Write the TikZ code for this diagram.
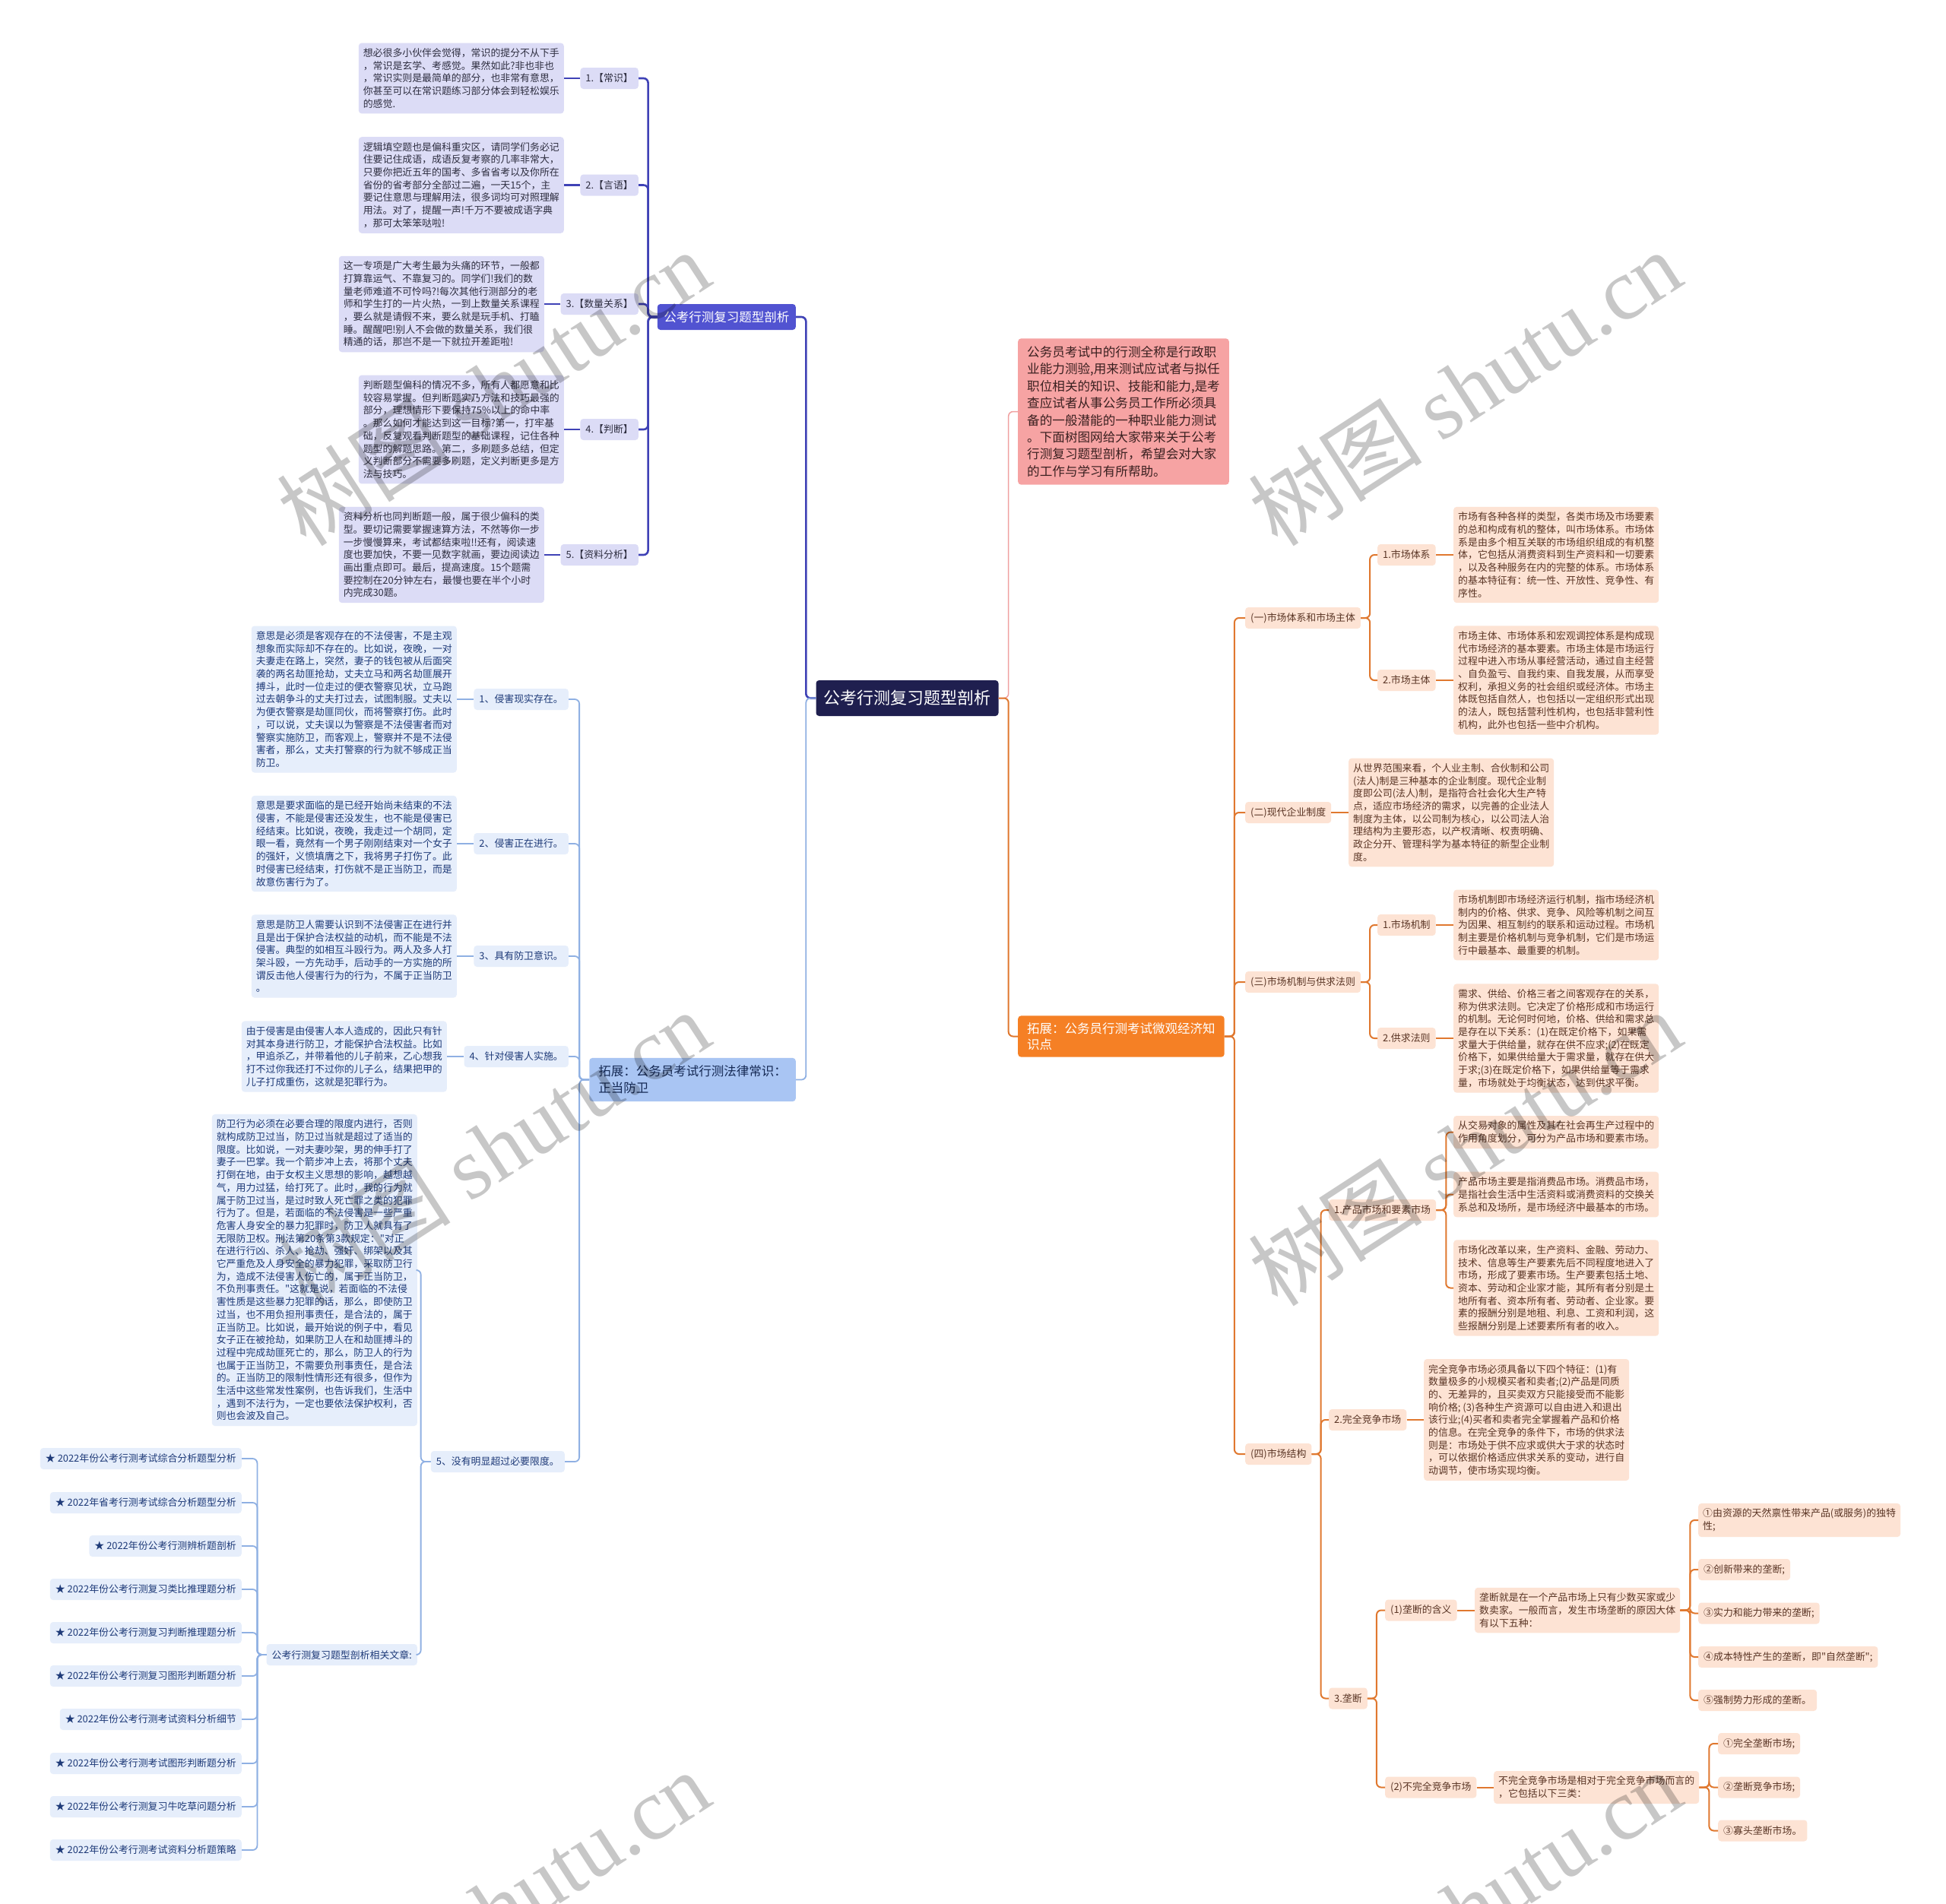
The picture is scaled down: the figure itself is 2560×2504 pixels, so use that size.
\documentclass[tikz,border=0pt]{standalone}
\usepackage{fontspec}
\newfontfamily\cjk{Noto Sans CJK SC}
\newfontfamily\wmfont{Liberation Serif}
\definecolor{rootfill}{HTML}{1F1F4F}
\definecolor{pnodefill}{HTML}{5153D1}
\definecolor{plinec}{HTML}{3F42B6}
\definecolor{pfill}{HTML}{DCDCF6}
\definecolor{ptext}{HTML}{2E2E40}
\definecolor{bnodefill}{HTML}{A9C5F3}
\definecolor{blinec}{HTML}{8FB0E3}
\definecolor{bfill}{HTML}{E6EEFB}
\definecolor{btext}{HTML}{1E3A78}
\definecolor{pinkfill}{HTML}{F6A3A3}
\definecolor{pinkline}{HTML}{F0A0A0}
\definecolor{pinktext}{HTML}{3A2020}
\definecolor{onodefill}{HTML}{F58025}
\definecolor{olinec}{HTML}{E0782F}
\definecolor{ofill}{HTML}{FDE3D4}
\definecolor{otext}{HTML}{5A3525}
\newcommand\myfsmall{\cjk\fontsize{12.9}{16.7}\selectfont}
\tikzset{
  boxbase/.style={rounded corners=4pt, inner xsep=6pt, inner ysep=7pt, align=left},
  labbase/.style={rounded corners=4pt, inner xsep=7pt, inner ysep=2pt, minimum height=28pt, align=left},
  rootbox/.style={rounded corners=4pt, fill=rootfill, text=white, font=\cjk\fontsize{22}{26}\selectfont, inner xsep=10pt, minimum height=47pt},
  pnode/.style={rounded corners=4pt, fill=pnodefill, text=white, font=\cjk\fontsize{16.5}{20}\selectfont, inner xsep=8.5pt, minimum height=34pt},
  ptxt/.style={boxbase, fill=pfill, text=ptext, font=\myfsmall},
  plab/.style={labbase, fill=pfill, text=ptext, font=\myfsmall},
  bnode/.style={rounded corners=4pt, fill=bnodefill, text=btext!70!black, font=\cjk\fontsize{16.5}{22}\selectfont, inner xsep=12pt, inner ysep=10pt, align=left},
  btxt/.style={boxbase, fill=bfill, text=btext, font=\myfsmall},
  blab/.style={labbase, fill=bfill, text=btext, font=\myfsmall},
  pinkbox/.style={rounded corners=4pt, fill=pinkfill, text=pinktext, font=\cjk\fontsize{16.6}{22.4}\selectfont, inner xsep=12pt, inner ysep=10pt, align=left},
  onode/.style={rounded corners=4pt, fill=onodefill, text=white, font=\cjk\fontsize{16.5}{21}\selectfont, inner xsep=12pt, inner ysep=9pt, align=left},
  otxt/.style={boxbase, fill=ofill, text=otext, font=\myfsmall},
  olab/.style={labbase, fill=ofill, text=otext, font=\myfsmall},
  pline/.style={draw=plinec, line width=2.6pt, rounded corners=6pt},
  bline/.style={draw=blinec, line width=1.8pt, rounded corners=6pt},
  oline/.style={draw=olinec, line width=2pt, rounded corners=6pt},
  pkline/.style={draw=pinkline, line width=1.5pt, rounded corners=6pt},
  wmark/.style={text=black, opacity=0.22, rotate=33, font=\cjk\fontsize{115}{120}\selectfont, inner sep=0pt}
}
\begin{document}
\begin{tikzpicture}[x=1pt,y=-1pt]
\useasboundingbox (0,0) rectangle (2560,2504);
\fill[white] (0,0) rectangle (2560,2504);

% ---------- root ----------
\node[rootbox] (root) at (1193.5,918.5) {公考行测复习题型剖析};

% ---------- purple branch ----------
\node[pnode, anchor=east] (pb) at (1047,417) {公考行测复习题型剖析};
\node[plab, anchor=east] (p1l) at (840,103) {1.【常识】};
\node[ptxt, anchor=east] (p1t) at (742,103) {想必很多小伙伴会觉得，常识的提分不从下手\\，常识是玄学、考感觉。果然如此?非也非也\\，常识实则是最简单的部分，也非常有意思，\\你甚至可以在常识题练习部分体会到轻松娱乐\\的感觉.};
\node[plab, anchor=east] (p2l) at (840,243.5) {2.【言语】};
\node[ptxt, anchor=east] (p2t) at (742,243.5) {逻辑填空题也是偏科重灾区，请同学们务必记\\住要记住成语，成语反复考察的几率非常大，\\只要你把近五年的国考、多省省考以及你所在\\省份的省考部分全部过二遍，一天15个，主\\要记住意思与理解用法，很多词均可对照理解\\用法。对了，提醒一声!千万不要被成语字典\\，那可太笨笨哒啦!};
\node[plab, anchor=east] (p3l) at (840,400) {3.【数量关系】};
\node[ptxt, anchor=east] (p3t) at (716,400) {这一专项是广大考生最为头痛的环节，一般都\\打算靠运气、不靠复习的。同学们!我们的数\\量老师难道不可怜吗?!每次其他行测部分的老\\师和学生打的一片火热，一到上数量关系课程\\，要么就是请假不来，要么就是玩手机、打瞌\\睡。醒醒吧!别人不会做的数量关系，我们很\\精通的话，那岂不是一下就拉开差距啦!};
\node[plab, anchor=east] (p4l) at (840,565) {4.【判断】};
\node[ptxt, anchor=east] (p4t) at (742,565) {判断题型偏科的情况不多，所有人都愿意和比\\较容易掌握。但判断题实乃方法和技巧最强的\\部分，理想情形下要保持75\%以上的命中率\\。那么如何才能达到这一目标?第一，打牢基\\础，反复观看判断题型的基础课程，记住各种\\题型的解题思路。第二，多刷题多总结，但定\\义判断部分不需要多刷题，定义判断更多是方\\法与技巧。};
\node[plab, anchor=east] (p5l) at (840,730) {5.【资料分析】};
\node[ptxt, anchor=east] (p5t) at (716,730) {资料分析也同判断题一般，属于很少偏科的类\\型。要切记需要掌握速算方法，不然等你一步\\一步慢慢算来，考试都结束啦!!还有，阅读速\\度也要加快，不要一见数字就画，要边阅读边\\画出重点即可。最后，提高速度。15个题需\\要控制在20分钟左右，最慢也要在半个小时\\内完成30题。};

% ---------- blue branch ----------
\node[bnode, anchor=east] (bb) at (1047,1420.5) {拓展：公务员考试行测法律常识：\\正当防卫};
\node[blab, anchor=east] (b1l) at (748,920) {1、侵害现实存在。};
\node[btxt, anchor=east] (b1t) at (601,920) {意思是必须是客观存在的不法侵害，不是主观\\想象而实际却不存在的。比如说，夜晚，一对\\夫妻走在路上，突然，妻子的钱包被从后面突\\袭的两名劫匪抢劫，丈夫立马和两名劫匪展开\\搏斗，此时一位走过的便衣警察见状，立马跑\\过去朝争斗的丈夫打过去，试图制服。丈夫以\\为便衣警察是劫匪同伙，而将警察打伤。此时\\，可以说，丈夫误以为警察是不法侵害者而对\\警察实施防卫，而客观上，警察并不是不法侵\\害者，那么，丈夫打警察的行为就不够成正当\\防卫。};
\node[blab, anchor=east] (b2l) at (748,1110) {2、侵害正在进行。};
\node[btxt, anchor=east] (b2t) at (601,1110) {意思是要求面临的是已经开始尚未结束的不法\\侵害，不能是侵害还没发生，也不能是侵害已\\经结束。比如说，夜晚，我走过一个胡同，定\\眼一看，竟然有一个男子刚刚结束对一个女子\\的强奸，义愤填膺之下，我将男子打伤了。此\\时侵害已经结束，打伤就不是正当防卫，而是\\故意伤害行为了。};
\node[blab, anchor=east] (b3l) at (748,1258) {3、具有防卫意识。};
\node[btxt, anchor=east] (b3t) at (601,1258) {意思是防卫人需要认识到不法侵害正在进行并\\且是出于保护合法权益的动机，而不能是不法\\侵害。典型的如相互斗殴行为。两人及多人打\\架斗殴，一方先动手，后动手的一方实施的所\\谓反击他人侵害行为的行为，不属于正当防卫\\。};
\node[blab, anchor=east] (b4l) at (748,1390) {4、针对侵害人实施。};
\node[btxt, anchor=east] (b4t) at (588,1390) {由于侵害是由侵害人本人造成的，因此只有针\\对其本身进行防卫，才能保护合法权益。比如\\，甲追杀乙，并带着他的儿子前来，乙心想我\\打不过你我还打不过你的儿子么，结果把甲的\\儿子打成重伤，这就是犯罪行为。};
\node[blab, anchor=east] (b5l) at (743,1923) {5、没有明显超过必要限度。};
\node[btxt, anchor=east] (b5t) at (549,1671) {防卫行为必须在必要合理的限度内进行，否则\\就构成防卫过当，防卫过当就是超过了适当的\\限度。比如说，一对夫妻吵架，男的伸手打了\\妻子一巴掌。我一个箭步冲上去，将那个丈夫\\打倒在地，由于女权主义思想的影响，越想越\\气，用力过猛，给打死了。此时，我的行为就\\属于防卫过当，是过时致人死亡罪之类的犯罪\\行为了。但是，若面临的不法侵害是一些严重\\危害人身安全的暴力犯罪时，防卫人就具有了\\无限防卫权。刑法第20条第3款规定："对正\\在进行行凶、杀人、抢劫、强奸、绑架以及其\\它严重危及人身安全的暴力犯罪，采取防卫行\\为，造成不法侵害人伤亡的，属于正当防卫，\\不负刑事责任。"这就是说，若面临的不法侵\\害性质是这些暴力犯罪的话，那么，即使防卫\\过当，也不用负担刑事责任，是合法的，属于\\正当防卫。比如说，最开始说的例子中，看见\\女子正在被抢劫，如果防卫人在和劫匪搏斗的\\过程中完成劫匪死亡的，那么，防卫人的行为\\也属于正当防卫，不需要负刑事责任，是合法\\的。正当防卫的限制性情形还有很多，但作为\\生活中这些常发性案例，也告诉我们，生活中\\，遇到不法行为，一定也要依法保护权利，否\\则也会波及自己。};
\node[blab, anchor=east] (rel) at (549,2177) {公考行测复习题型剖析相关文章:};
\node[blab, anchor=east] (a1) at (318,1919) {★ 2022年份公考行测考试综合分析题型分析};
\node[blab, anchor=east] (a2) at (318,1977) {★ 2022年省考行测考试综合分析题型分析};
\node[blab, anchor=east] (a3) at (318,2034) {★ 2022年份公考行测辨析题剖析};
\node[blab, anchor=east] (a4) at (318,2091) {★ 2022年份公考行测复习类比推理题分析};
\node[blab, anchor=east] (a5) at (318,2148) {★ 2022年份公考行测复习判断推理题分析};
\node[blab, anchor=east] (a6) at (318,2205) {★ 2022年份公考行测复习图形判断题分析};
\node[blab, anchor=east] (a7) at (318,2262) {★ 2022年份公考行测考试资料分析细节};
\node[blab, anchor=east] (a8) at (318,2320) {★ 2022年份公考行测考试图形判断题分析};
\node[blab, anchor=east] (a9) at (318,2377) {★ 2022年份公考行测复习牛吃草问题分析};
\node[blab, anchor=east] (a10) at (318,2434) {★ 2022年份公考行测考试资料分析题策略};

% ---------- pink intro ----------
\node[pinkbox, anchor=west] (intro) at (1339,541.5) {公务员考试中的行测全称是行政职\\业能力测验,用来测试应试者与拟任\\职位相关的知识、技能和能力,是考\\查应试者从事公务员工作所必须具\\备的一般潜能的一种职业能力测试\\。下面树图网给大家带来关于公考\\行测复习题型剖析，希望会对大家\\的工作与学习有所帮助。};

% ---------- orange branch ----------
\node[onode, anchor=west] (ob) at (1339,1363.5) {拓展：公务员行测考试微观经济知\\识点};
\node[olab, anchor=west] (o1) at (1638,813) {(一)市场体系和市场主体};
\node[olab, anchor=west] (o11) at (1812,730) {1.市场体系};
\node[otxt, anchor=west] (o11t) at (1912,730) {市场有各种各样的类型，各类市场及市场要素\\的总和构成有机的整体，叫市场体系。市场体\\系是由多个相互关联的市场组织组成的有机整\\体，它包括从消费资料到生产资料和一切要素\\，以及各种服务在内的完整的体系。市场体系\\的基本特征有：统一性、开放性、竞争性、有\\序性。};
\node[olab, anchor=west] (o12) at (1812,895) {2.市场主体};
\node[otxt, anchor=west] (o12t) at (1912,895) {市场主体、市场体系和宏观调控体系是构成现\\代市场经济的基本要素。市场主体是市场运行\\过程中进入市场从事经营活动，通过自主经营\\、自负盈亏、自我约束、自我发展，从而享受\\权利，承担义务的社会组织或经济体。市场主\\体既包括自然人，也包括以一定组织形式出现\\的法人，既包括营利性机构，也包括非营利性\\机构，此外也包括一些中介机构。};
\node[olab, anchor=west] (o2) at (1638,1069) {(二)现代企业制度};
\node[otxt, anchor=west] (o2t) at (1774,1069) {从世界范围来看，个人业主制、合伙制和公司\\(法人)制是三种基本的企业制度。现代企业制\\度即公司(法人)制，是指符合社会化大生产特\\点，适应市场经济的需求，以完善的企业法人\\制度为主体，以公司制为核心，以公司法人治\\理结构为主要形态，以产权清晰、权责明确、\\政企分开、管理科学为基本特征的新型企业制\\度。};
\node[olab, anchor=west] (o3) at (1638,1292) {(三)市场机制与供求法则};
\node[olab, anchor=west] (o31) at (1812,1217) {1.市场机制};
\node[otxt, anchor=west] (o31t) at (1912,1217) {市场机制即市场经济运行机制，指市场经济机\\制内的价格、供求、竞争、风险等机制之间互\\为因果、相互制约的联系和运动过程。市场机\\制主要是价格机制与竞争机制，它们是市场运\\行中最基本、最重要的机制。};
\node[olab, anchor=west] (o32) at (1812,1366) {2.供求法则};
\node[otxt, anchor=west] (o32t) at (1912,1366) {需求、供给、价格三者之间客观存在的关系，\\称为供求法则。它决定了价格形成和市场运行\\的机制。无论何时何地，价格、供给和需求总\\是存在以下关系：(1)在既定价格下，如果需\\求量大于供给量，就存在供不应求;(2)在既定\\价格下，如果供给量大于需求量，就存在供大\\于求;(3)在既定价格下，如果供给量等于需求\\量，市场就处于均衡状态，达到供求平衡。};
\node[olab, anchor=west] (o4) at (1638,1913) {(四)市场结构};
\node[olab, anchor=west] (o41) at (1748,1592) {1.产品市场和要素市场};
\node[otxt, anchor=west] (o41a) at (1912,1489.5) {从交易对象的属性及其在社会再生产过程中的\\作用角度划分，可分为产品市场和要素市场。};
\node[otxt, anchor=west] (o41b) at (1912,1571.5) {产品市场主要是指消费品市场。消费品市场，\\是指社会生活中生活资料或消费资料的交换关\\系总和及场所，是市场经济中最基本的市场。};
\node[otxt, anchor=west] (o41c) at (1912,1694.5) {市场化改革以来，生产资料、金融、劳动力、\\技术、信息等生产要素先后不同程度地进入了\\市场，形成了要素市场。生产要素包括土地、\\资本、劳动和企业家才能，其所有者分别是土\\地所有者、资本所有者、劳动者、企业家。要\\素的报酬分别是地租、利息、工资和利润，这\\些报酬分别是上述要素所有者的收入。};
\node[olab, anchor=west] (o42) at (1748,1868) {2.完全竞争市场};
\node[otxt, anchor=west] (o42t) at (1873,1868) {完全竞争市场必须具备以下四个特征：(1)有\\数量极多的小规模买者和卖者;(2)产品是同质\\的、无差异的，且买卖双方只能接受而不能影\\响价格; (3)各种生产资源可以自由进入和退出\\该行业;(4)买者和卖者完全掌握着产品和价格\\的信息。在完全竞争的条件下，市场的供求法\\则是：市场处于供不应求或供大于求的状态时\\，可以依据价格适应供求关系的变动，进行自\\动调节，使市场实现均衡。};
\node[olab, anchor=west] (o43) at (1748,2234.5) {3.垄断};
\node[olab, anchor=west] (o431) at (1822,2118.5) {(1)垄断的含义};
\node[otxt, anchor=west] (o431t) at (1940,2118.5) {垄断就是在一个产品市场上只有少数买家或少\\数卖家。一般而言，发生市场垄断的原因大体\\有以下五种：};
\node[otxt, anchor=west] (m1) at (2234,2000) {①由资源的天然禀性带来产品(或服务)的独特\\性;};
\node[olab, anchor=west] (m2) at (2234,2065) {②创新带来的垄断;};
\node[olab, anchor=west] (m3) at (2234,2122.5) {③实力和能力带来的垄断;};
\node[olab, anchor=west] (m4) at (2234,2180) {④成本特性产生的垄断，即"自然垄断";};
\node[olab, anchor=west] (m5) at (2234,2237) {⑤强制势力形成的垄断。};
\node[olab, anchor=west] (o432) at (1822,2351.5) {(2)不完全竞争市场};
\node[otxt, anchor=west] (o432t) at (1965,2351.5) {不完全竞争市场是相对于完全竞争市场而言的\\，它包括以下三类：};
\node[olab, anchor=west] (n1) at (2260,2294) {①完全垄断市场;};
\node[olab, anchor=west] (n2) at (2260,2351.5) {②垄断竞争市场;};
\node[olab, anchor=west] (n3) at (2260,2408.5) {③寡头垄断市场。};

% ---------- connectors ----------
\draw[pline] (root.west) -- ++(-13,0) |- (pb.east);
\draw[bline] (root.west) -- ++(-13,0) |- (bb.east);
\draw[pkline] (root.east) -- ++(13,0) |- (intro.west);
\draw[oline] (root.east) -- ++(13,0) |- (ob.west);

\foreach \c in {p1l,p2l,p3l,p4l,p5l} \draw[pline] (pb.west) -- ++(-12,0) |- (\c.east);
\draw[pline] (p1l.west) -- (p1t.east);
\draw[pline] (p2l.west) -- (p2t.east);
\draw[pline] (p3l.west) -- (p3t.east);
\draw[pline] (p4l.west) -- (p4t.east);
\draw[pline] (p5l.west) -- (p5t.east);

\foreach \c in {b1l,b2l,b3l,b4l,b5l} \draw[bline] (bb.west) -- ++(-13,0) |- (\c.east);
\draw[bline] (b1l.west) -- (b1t.east);
\draw[bline] (b2l.west) -- (b2t.east);
\draw[bline] (b3l.west) -- (b3t.east);
\draw[bline] (b4l.west) -- (b4t.east);
\foreach \c in {b5t,rel} \draw[bline] (b5l.west) -- ++(-13,0) |- (\c.east);
\foreach \c in {a1,a2,a3,a4,a5,a6,a7,a8,a9,a10} \draw[bline] (rel.west) -- ++(-12,0) |- (\c.east);

\foreach \c in {o1,o2,o3,o4} \draw[oline] (ob.east) -- ++(13,0) |- (\c.west);
\foreach \c in {o11,o12} \draw[oline] (o1.east) -- ++(12,0) |- (\c.west);
\draw[oline] (o11.east) -- (o11t.west);
\draw[oline] (o12.east) -- (o12t.west);
\draw[oline] (o2.east) -- (o2t.west);
\foreach \c in {o31,o32} \draw[oline] (o3.east) -- ++(12,0) |- (\c.west);
\draw[oline] (o31.east) -- (o31t.west);
\draw[oline] (o32.east) -- (o32t.west);
\foreach \c in {o41,o42,o43} \draw[oline] (o4.east) -- ++(12,0) |- (\c.west);
\foreach \c in {o41a,o41b,o41c} \draw[oline] (o41.east) -- ++(13,0) |- (\c.west);
\draw[oline] (o42.east) -- (o42t.west);
\foreach \c in {o431,o432} \draw[oline] (o43.east) -- ++(12,0) |- (\c.west);
\draw[oline] (o431.east) -- (o431t.west);
\foreach \c in {m1,m2,m3,m4,m5} \draw[oline] (o431t.east) -- ++(13,0) |- (\c.west);
\draw[oline] (o432.east) -- (o432t.west);
\foreach \c in {n1,n2,n3} \draw[oline] (o432t.east) -- ++(13,0) |- (\c.west);

% ---------- watermarks ----------
\foreach \wx/\wy [count=\i] in {649/510,1927/510,649/1510,1927/1510,649/2510,1927/2510}
  \node[wmark] (wm\i) at (\wx,\wy) {树图 {\wmfont shutu.cn}};
\end{tikzpicture}
\end{document}
